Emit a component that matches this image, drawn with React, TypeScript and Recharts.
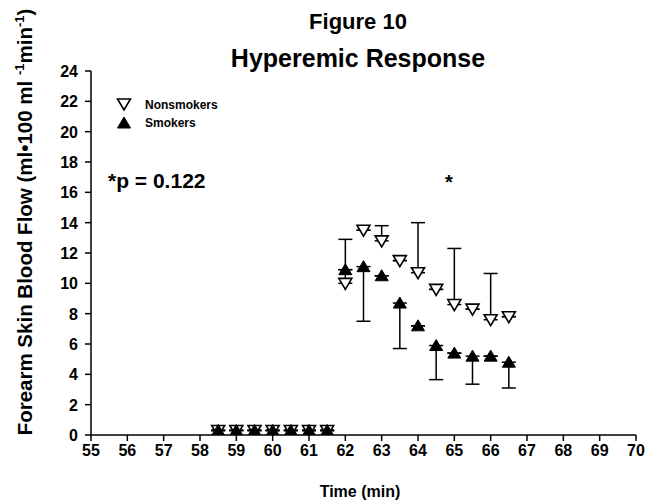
import React from 'react';
import { ScatterChart, Scatter, XAxis, YAxis, ErrorBar, ReferenceDot } from 'recharts';

const times = [58.5, 59, 59.5, 60, 60.5, 61, 61.5, 62, 62.5, 63, 63.5, 64, 64.5, 65, 65.5, 66, 66.5];
const nonsmokers = [0.3, 0.3, 0.3, 0.3, 0.3, 0.3, 0.3, 10.0, 13.5, 12.8, 11.5, 10.7, 9.6, 8.6, 8.3, 7.6, 7.8];
const nonsmokersErrUp = [0, 0, 0, 0, 0, 0, 0, 2.9, 0, 1.0, 0, 3.3, 0, 3.7, 0, 3.05, 0];
const smokers = [0.3, 0.3, 0.3, 0.3, 0.3, 0.3, 0.3, 10.9, 11.1, 10.5, 8.7, 7.2, 5.9, 5.4, 5.2, 5.2, 4.8];
const smokersErrDown = [0, 0, 0, 0, 0, 0, 0, 0, 3.6, 0, 3.0, 0, 2.25, 0, 1.85, 0, 1.7];
const xTicks = [55, 56, 57, 58, 59, 60, 61, 62, 63, 64, 65, 66, 67, 68, 69, 70];
const yTicks = [0, 2, 4, 6, 8, 10, 12, 14, 16, 18, 20, 22, 24];
const seriesNames = ['Nonsmokers', 'Smokers'];
const pValueText = '*p = 0.122';
const sigMark = { t: 64.85, v: 17 };

const nsData = times.map((t, i) => ({ t, v: nonsmokers[i], err: [0, nonsmokersErrUp[i]] }));
const sData = times.map((t, i) => ({ t, v: smokers[i], err: [smokersErrDown[i], 0] }));

const FONT = '"Liberation Sans", Arial, sans-serif';

const DownTri = (props: any) => {
  const { cx, cy } = props;
  return (
    <path
      d={`M${cx - 6.5},${cy - 5} L${cx + 6.5},${cy - 5} L${cx},${cy + 6} Z`}
      fill="#fff"
      stroke="#000"
      strokeWidth={1.6}
    />
  );
};

const UpTri = (props: any) => {
  const { cx, cy } = props;
  return (
    <path
      d={`M${cx - 6.5},${cy + 5} L${cx + 6.5},${cy + 5} L${cx},${cy - 6} Z`}
      fill="#000"
      stroke="#000"
      strokeWidth={1}
    />
  );
};

const XTick = (props: any) => {
  const { x, y, payload } = props;
  return (
    <text x={x} y={y + 13} textAnchor="middle" fontFamily={FONT} fontWeight={700} fontSize={16} fill="#000">
      {payload.value}
    </text>
  );
};

const YTick = (props: any) => {
  const { x, y, payload } = props;
  return (
    <text x={x} y={y + 6} textAnchor="end" fontFamily={FONT} fontWeight={700} fontSize={16} fill="#000">
      {payload.value}
    </text>
  );
};

export default function App() {
  return (
    <div style={{ position: 'absolute', left: 0, top: 0, width: 654, height: 502, background: '#fff' }}>
      <ScatterChart
        width={654}
        height={502}
        margin={{ top: 71, right: 18, bottom: 37, left: 31 }}
      >
        <XAxis
          type="number"
          dataKey="t"
          domain={[55, 70]}
          ticks={xTicks}
          interval={0}
          allowDataOverflow
          tickSize={6}
          tickMargin={2}
          height={30}
          axisLine={{ stroke: '#000', strokeWidth: 1.5 }}
          tickLine={{ stroke: '#000', strokeWidth: 1.5 }}
          tick={XTick}
        />
        <YAxis
          type="number"
          dataKey="v"
          domain={[0, 24]}
          ticks={yTicks}
          interval={0}
          allowDataOverflow
          tickSize={6}
          tickMargin={7}
          width={60}
          axisLine={{ stroke: '#000', strokeWidth: 1.5 }}
          tickLine={{ stroke: '#000', strokeWidth: 1.5 }}
          tick={YTick}
        />
        <Scatter name={seriesNames[0]} data={nsData} dataKey="v" shape={DownTri} isAnimationActive={false}>
          <ErrorBar dataKey="err" direction="y" width={7} stroke="#000" strokeWidth={1.5} isAnimationActive={false} />
        </Scatter>
        <Scatter name={seriesNames[1]} data={sData} dataKey="v" shape={UpTri} isAnimationActive={false}>
          <ErrorBar dataKey="err" direction="y" width={7} stroke="#000" strokeWidth={1.5} isAnimationActive={false} />
        </Scatter>
        <ReferenceDot
          x={sigMark.t}
          y={sigMark.v}
          r={0}
          fill="none"
          stroke="none"
          label={{ value: '*', position: 'center', fill: '#000', fontSize: 20, fontWeight: 700, fontFamily: FONT, dy: 5 }}
        />
      </ScatterChart>
      <svg
        width={654}
        height={502}
        style={{ position: 'absolute', left: 0, top: 0, pointerEvents: 'none' }}
      >
        <g fontFamily={FONT} fontWeight={700} fill="#000">
          <text x={358} y={29} textAnchor="middle" fontSize={22}>Figure 10</text>
          <text x={358} y={67} textAnchor="middle" fontSize={25}>Hyperemic Response</text>
          <path d="M117.5,99 L130.5,99 L124,110 Z" fill="#fff" stroke="#000" strokeWidth={1.6} />
          <text x={145} y={109} fontSize={12}>{seriesNames[0]}</text>
          <path d="M117.5,128 L130.5,128 L124,117 Z" fill="#000" stroke="#000" strokeWidth={1} />
          <text x={145} y={127} fontSize={12}>{seriesNames[1]}</text>
          <text x={108} y={188} fontSize={21}>{pValueText}</text>
          <text x={360} y={497} textAnchor="middle" fontSize={16}>Time (min)</text>
          <text transform="translate(32,222) rotate(-90)" textAnchor="middle" fontSize={20.5}>
            Forearm Skin Blood Flow (ml•100 ml <tspan dy={-8} fontSize={13}>-1</tspan>
            <tspan dy={8}>min</tspan>
            <tspan dy={-8} fontSize={13}>-1</tspan>
            <tspan dy={8}>)</tspan>
          </text>
        </g>
      </svg>
    </div>
  );
}
